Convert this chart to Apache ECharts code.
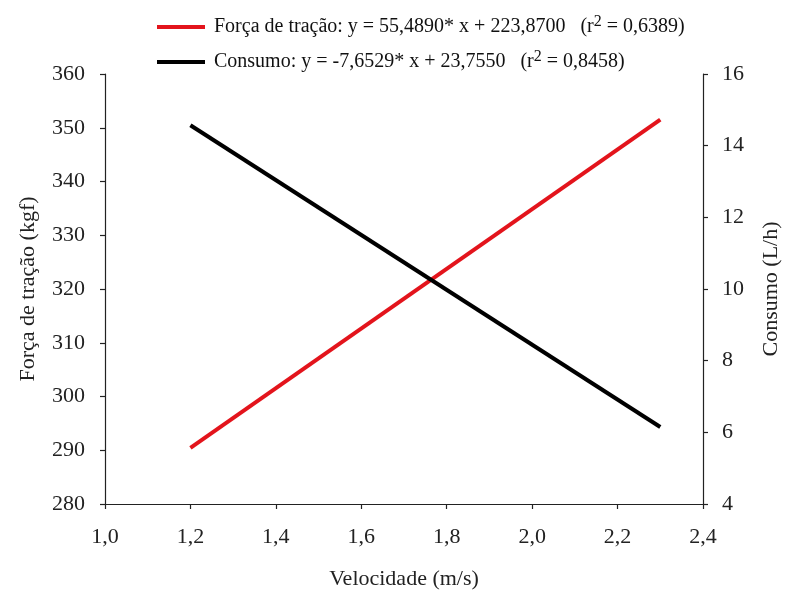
<!DOCTYPE html>
<html>
<head>
<meta charset="utf-8">
<script src="https://cdn.jsdelivr.net/npm/echarts@6/dist/echarts.min.js"></script>
<style>html,body{margin:0;padding:0;background:#fff;}#c{width:786px;height:590px;}</style>
</head>
<body>
<div id="c"></div>
<script>
var velocidade = [1.2, 2.3];
var forca = [290.46, 351.50];
var consumo = [14.57, 6.15];
var leftTicks = [280, 360, 10];
var rightTicks = [4, 16, 2];
var xTicks = [1.0, 2.4, 0.2];
var legendForca = 'Força de tração: y = 55,4890* x + 223,8700   (r{sup|2} = 0,6389)';
var legendConsumo = 'Consumo: y = -7,6529* x + 23,7550   (r{sup|2} = 0,8458)';

var font = '"Liberation Serif","Times New Roman",serif';
var chart = echarts.init(document.getElementById('c'));
function comma(v, d){ return v.toFixed(d).replace('.', ','); }
var axisCommon = {
  axisLine: {show: true, lineStyle: {color: '#222', width: 1.2}},
  axisTick: {show: true, inside: false, length: 5, lineStyle: {color: '#222', width: 1.2}},
  splitLine: {show: false}
};
chart.setOption({
  backgroundColor: '#fff',
  animation: false,
  textStyle: {fontFamily: font},
  grid: {left: 105, right: 83, top: 74, bottom: 86, containLabel: false, outerBoundsMode: 'none'},
  legend: {
    orient: 'vertical', left: 157, top: 14, itemGap: 9, padding: 0,
    icon: 'rect', itemWidth: 48, itemHeight: 4,
    textStyle: {fontFamily: font, fontSize: 20, color: '#111', lineHeight: 22, padding: [0,0,0,4],
      rich: {sup: {fontSize: 16, fontFamily: font, color: '#111', lineHeight: 22, padding: [0,0,10,0]}}},
    data: ['forca', 'consumo'],
    formatter: function(n){ return n === 'forca' ? legendForca : legendConsumo; }
  },
  xAxis: Object.assign({
    type: 'value', min: xTicks[0], max: xTicks[1], interval: xTicks[2],
    name: 'Velocidade (m/s)', nameLocation: 'middle', nameGap: 64,
    nameTextStyle: {fontFamily: font, fontSize: 22, color: '#222'},
    axisLabel: {fontFamily: font, fontSize: 22, color: '#222', margin: 22,
      formatter: function(v){ return comma(v,1); }}
  }, axisCommon),
  yAxis: [
    Object.assign({
      type: 'value', min: leftTicks[0], max: leftTicks[1], interval: leftTicks[2], position: 'left',
      name: 'Força de tração (kgf)', nameLocation: 'middle', nameGap: 66,
      nameTextStyle: {fontFamily: font, fontSize: 22, color: '#222'},
      axisLabel: {fontFamily: font, fontSize: 22, color: '#222', margin: 20}
    }, axisCommon),
    Object.assign({
      type: 'value', min: rightTicks[0], max: rightTicks[1], interval: rightTicks[2], position: 'right',
      name: 'Consumo (L/h)', nameLocation: 'middle', nameGap: 57, nameRotate: 90,
      nameTextStyle: {fontFamily: font, fontSize: 22, color: '#222'},
      axisLabel: {fontFamily: font, fontSize: 22, color: '#222', margin: 19}
    }, axisCommon)
  ],
  series: [
    {name: 'forca', type: 'line', yAxisIndex: 0, showSymbol: false, symbol: 'none',
     color: '#e3141c', lineStyle: {width: 4, color: '#e3141c'},
     data: velocidade.map(function(x,i){ return [x, forca[i]]; })},
    {name: 'consumo', type: 'line', yAxisIndex: 1, showSymbol: false, symbol: 'none',
     color: '#000', lineStyle: {width: 4, color: '#000'},
     data: velocidade.map(function(x,i){ return [x, consumo[i]]; })}
  ]
});
</script>
</body>
</html>
